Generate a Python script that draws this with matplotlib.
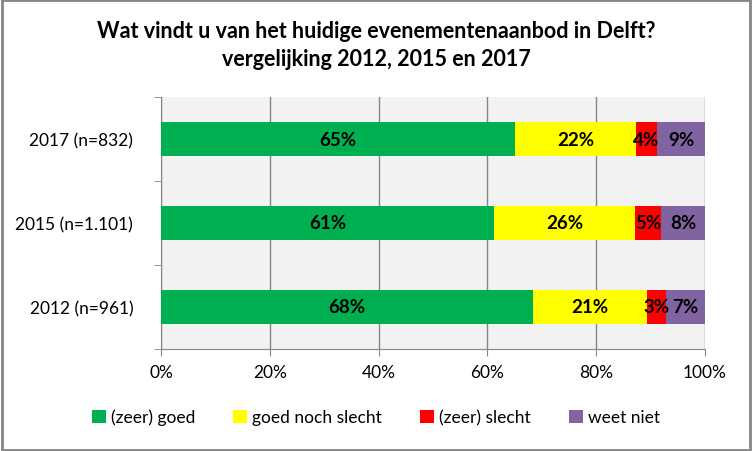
"""
Stacked horizontal bar chart: opinion on events offer in Delft, 2012/2015/2017.
"""
import numpy as np
import matplotlib.pyplot as plt
from matplotlib.patches import Rectangle

plt.rcParams['font.family'] = ['Lato', 'DejaVu Sans']

years = ["2012 (n=961)", "2015 (n=1.101)", "2017 (n=832)"]
categories = ["(zeer) goed", "goed noch slecht", "(zeer) slecht", "weet niet"]
zeer_goed = [68.4, 61.2, 65.1]
noch = [21.0, 25.9, 22.2]
slecht = [3.4, 4.8, 3.9]
weet_niet = [7.2, 8.1, 8.8]
colors = ["#00B050", "#FFFF00", "#FF0000", "#8064A2"]

series = [zeer_goed, noch, slecht, weet_niet]

fig = plt.figure(figsize=(7.52, 4.52), dpi=100)
ax = fig.add_axes([161/752, 1 - 350/452, 544/752, 252/452])
ax.set_facecolor("#F2F2F2")

ind = np.arange(len(years))
left = np.zeros(len(years))
for vals, col, name in zip(series, colors, categories):
    bars = ax.barh(ind, vals, left=left, height=0.4, color=col, label=name, zorder=3)
    for rect, v in zip(bars, vals):
        ax.text(rect.get_x() + rect.get_width()/2., rect.get_y() + rect.get_height()/2.,
                '%d%%' % int(round(v)), ha='center', va='center',
                fontsize=13.5, fontweight='bold', zorder=4)
    left += np.array(vals)

ax.set_xlim(0, 100)
ax.set_ylim(-0.5, 2.5)
ax.set_xticks(np.arange(0, 101, 20))
ax.set_xticklabels(['%d%%' % t for t in range(0, 101, 20)], fontsize=12.5)
ax.set_yticks(ind)
ax.set_yticklabels(years, fontsize=12.5)
ax.set_yticks([-0.5, 0.5, 1.5, 2.5], minor=True)
ax.tick_params(axis='y', which='major', length=0, pad=20)
ax.tick_params(axis='y', which='minor', length=5, color="#868686")
ax.tick_params(axis='x', length=5, color="#868686", pad=6)
ax.grid(axis='x', color="#868686", linewidth=1, zorder=0)
for s in ['top', 'right']:
    ax.spines[s].set_visible(False)
ax.spines['left'].set_color("#868686")
ax.spines['bottom'].set_color("#868686")

fig.text(0.5, 1 - 32/452, "Wat vindt u van het huidige evenementenaanbod in Delft?",
         ha='center', va='center', fontsize=15.5, fontweight='bold')
fig.text(0.5, 1 - 60/452, "vergelijking 2012, 2015 en 2017",
         ha='center', va='center', fontsize=15.5, fontweight='bold')

fig.legend(loc='center', bbox_to_anchor=(0.5, 1 - 418/452), ncol=4, frameon=False,
           fontsize=12.5, handlelength=0.8, handleheight=0.8, handletextpad=0.3,
           columnspacing=2.2)

fig.patches.append(Rectangle((0.002, 0.003), 0.995, 0.994, transform=fig.transFigure,
                             fill=False, edgecolor="#868686", linewidth=2))

plt.savefig("out.png", dpi=100)
